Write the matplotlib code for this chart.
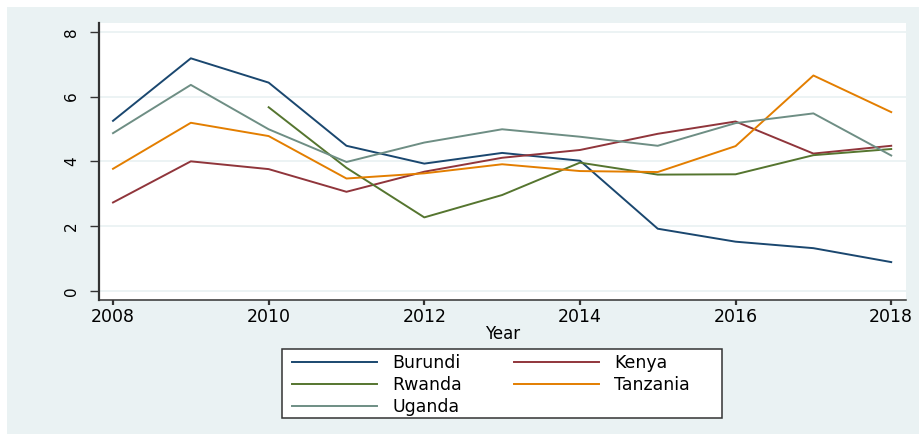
import matplotlib.pyplot as plt
from matplotlib.patches import Rectangle
from matplotlib.lines import Line2D

plt.rcParams['font.family'] = ['DejaVu Sans']

years = [2008, 2009, 2010, 2011, 2012, 2013, 2014, 2015, 2016, 2017, 2018]
burundi = [5.25, 7.18, 6.43, 4.48, 3.93, 4.26, 4.02, 1.92, 1.52, 1.32, 0.89]
kenya = [2.73, 4.00, 3.76, 3.06, 3.68, 4.11, 4.35, 4.85, 5.23, 4.24, 4.48]
rwanda = [None, None, 5.67, 3.80, 2.27, 2.96, 3.96, 3.59, 3.60, 4.19, 4.38]
tanzania = [3.77, 5.19, 4.78, 3.47, 3.63, 3.91, 3.70, 3.67, 4.47, 6.65, 5.52]
uganda = [4.87, 6.36, 4.99, 3.98, 4.58, 4.99, 4.76, 4.48, 5.18, 5.48, 4.18]

names = ['Burundi', 'Kenya', 'Rwanda', 'Tanzania', 'Uganda']
series = [burundi, kenya, rwanda, tanzania, uganda]
colors = ['#1a476f', '#90353b', '#55752f', '#e37e00', '#6e8e84']
yticks = [0, 2, 4, 6, 8]
xticks = [2008, 2010, 2012, 2014, 2016, 2018]

W, H = 919, 434
BG = '#eaf2f3'

fig = plt.figure(figsize=(W / 100, H / 100), dpi=100)
fig.patch.set_facecolor('white')
fig.patches.append(Rectangle((7 / W, 0), 1, 1 - 7 / H, transform=fig.transFigure,
                             facecolor=BG, edgecolor='none', zorder=-10))

ax = fig.add_axes([99 / W, 1 - 300 / H, (906 - 99) / W, (300 - 23) / H])
ax.set_facecolor('white')

for name, vals, c in zip(names, series, colors):
    xs = [x for x, v in zip(years, vals) if v is not None]
    ys = [v for v in vals if v is not None]
    ax.plot(xs, ys, color=c, linewidth=1.4, label=name)

ax.set_xlim(2007.82, 2018.19)
ax.set_ylim(-0.28, 8.27)
ax.set_yticks(yticks)
ax.set_xticks(xticks)
ax.set_yticklabels([str(t) for t in yticks], rotation=90, va='center', fontsize=11)
ax.set_xticklabels([str(t) for t in xticks], fontsize=12.5)
ax.tick_params(axis='y', direction='out', length=6.5, width=1, color='#333333', pad=8)
ax.tick_params(axis='x', direction='out', length=3.5, width=1.6, color='#333333', pad=2.5)
ax.grid(axis='y', color=BG, linewidth=1.3)
ax.set_axisbelow(True)
for s in ['top', 'right']:
    ax.spines[s].set_visible(False)
ax.spines['left'].set_color('#333333')
ax.spines['left'].set_linewidth(1.6)
ax.spines['bottom'].set_color('#333333')
ax.spines['bottom'].set_linewidth(1.1)
ax.set_xlabel('Year', fontsize=12, labelpad=-1)

# legend box (wider than the entries, as in the original)
fig.patches.append(Rectangle((282 / W, 1 - 418 / H), 440 / W, 69 / H,
                             transform=fig.transFigure, facecolor='white',
                             edgecolor='#333333', linewidth=1.1, zorder=2))

# Stata fills the legend row by row, matplotlib column by column
order = [0, 2, 4, 1, 3]
handles = [Line2D([], [], color=colors[i], linewidth=1.4) for i in order]
labels = [names[i] for i in order]
leg = fig.legend(handles, labels, loc='upper left', ncol=2,
                 bbox_to_anchor=(292 / W, 1 - 354.5 / H), fontsize=12.5,
                 frameon=False, handlelength=4.9, handletextpad=0.9,
                 columnspacing=2.95, labelspacing=0.22, borderpad=0,
                 borderaxespad=0)
leg.set_zorder(3)

fig.savefig('out.png', dpi=100, facecolor=fig.get_facecolor())
